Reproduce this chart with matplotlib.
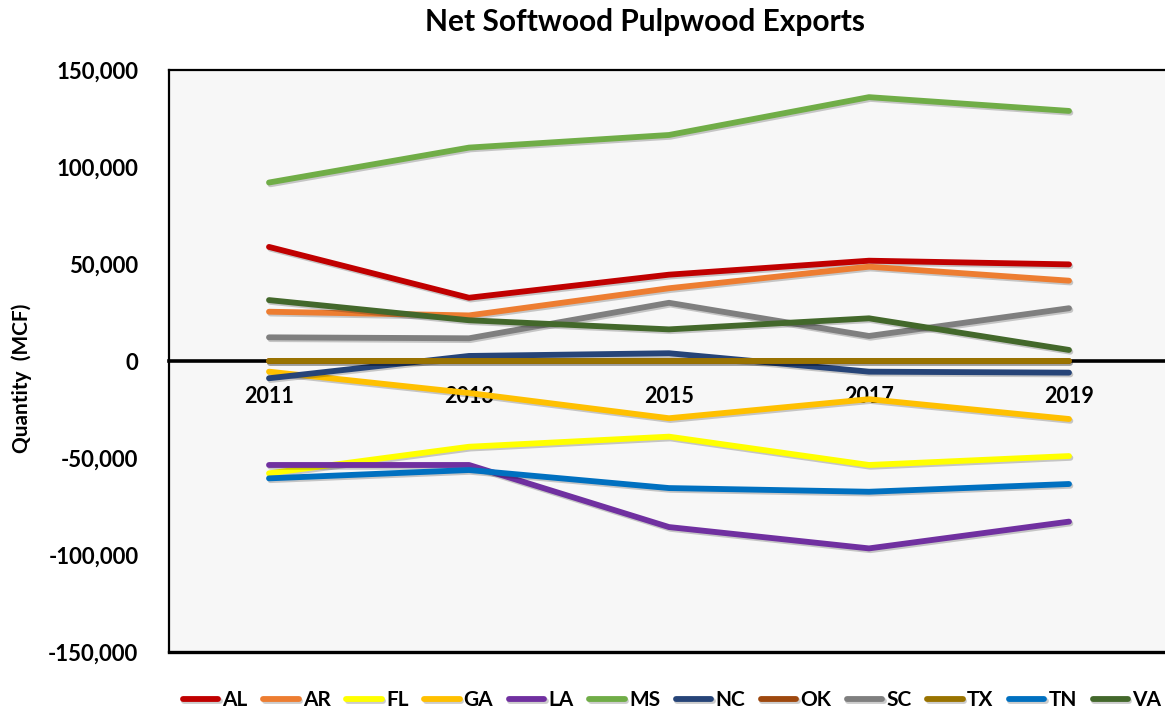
import matplotlib
matplotlib.use("Agg")
import matplotlib.pyplot as plt
import matplotlib.patheffects as pe
from matplotlib.ticker import FuncFormatter, FixedLocator

plt.rcParams['font.family'] = ['Lato', 'DejaVu Sans']
plt.rcParams['font.weight'] = 'bold'

years = ["2011", "2013", "2015", "2017", "2019"]
states = ["AL", "AR", "FL", "GA", "LA", "MS", "NC", "OK", "SC", "TX", "TN", "VA"]

AL = [58800, 32600, 44500, 51700, 49800]
AR = [25400, 23500, 37500, 48600, 41400]
FL = [-57900, -44200, -39000, -53600, -49000]
GA = [-5500, -16500, -29500, -19700, -29900]
LA = [-53600, -53600, -85600, -96600, -82800]
MS = [92000, 110000, 116500, 136000, 128900]
NC = [-8900, 2600, 4000, -5500, -6000]
OK = [0, 0, 0, 0, 0]
SC = [12200, 11700, 30000, 12900, 27200]
TX = [0, 0, 0, 0, 0]
TN = [-60500, -56200, -65500, -67400, -63400]
VA = [31400, 21000, 16300, 22000, 5700]

series = [AL, AR, FL, GA, LA, MS, NC, OK, SC, TX, TN, VA]
colors = ["#C00000", "#ED7D31", "#FFFF00", "#FFC000", "#7030A0", "#70AD47",
          "#264478", "#9E480E", "#7F7F7F", "#997300", "#0070C0", "#43682B"]

fig = plt.figure(figsize=(11.65, 7.17), dpi=100)
fig.patch.set_facecolor("white")
ax = fig.add_axes([169 / 1165, 65 / 717, 1000 / 1165, 582 / 717])
ax.set_facecolor("#F7F7F7")

x = list(range(len(years)))
shadow = [pe.SimpleLineShadow(offset=(1.0, -1.3), shadow_color="black", alpha=0.2),
          pe.Normal()]
for name, vals, col in zip(states, series, colors):
    ax.plot(x, vals, color=col, lw=4.2, solid_capstyle="round",
            solid_joinstyle="round", label=name, zorder=3, path_effects=shadow)

ax.set_xlim(-0.5, 4.5)
ax.set_ylim(-150000, 150000)
ax.yaxis.set_major_locator(FixedLocator(range(-150000, 150001, 50000)))
ax.yaxis.set_major_formatter(FuncFormatter(lambda v, p: f"{int(v):,}"))
ax.set_xticks(x)
ax.set_xticklabels(years)

# the category axis crosses at zero; a separate border closes the plot area
ax.spines["bottom"].set_position(("data", 0))
ax.spines["bottom"].set_linewidth(2.6)
ax.spines["bottom"].set_zorder(2.6)
for s in ("left", "top", "right"):
    ax.spines[s].set_linewidth(1.6)
ax.axhline(-150000, color="black", lw=2.4, clip_on=False, zorder=2.5)

ax.tick_params(axis="x", length=0, pad=18, labelsize=15.5)
ax.tick_params(axis="y", length=0, pad=22, labelsize=16)

fig.text(645 / 1165, 1 - 22 / 717, "Net Softwood Pulpwood Exports",
         ha="center", va="center", fontsize=21.5, fontweight="bold")
fig.text(22 / 1165, 1 - 378 / 717, "Quantity  (MCF)", rotation=90,
         ha="center", va="center", fontsize=15, fontweight="bold")

fig.legend(loc="center", bbox_to_anchor=(672 / 1165, 1 - 700 / 717), ncol=12,
           frameon=False, fontsize=15, handlelength=1.7, handletextpad=0.2,
           columnspacing=0.75, borderaxespad=0)

fig.savefig("out.png", dpi=100, facecolor="white")
